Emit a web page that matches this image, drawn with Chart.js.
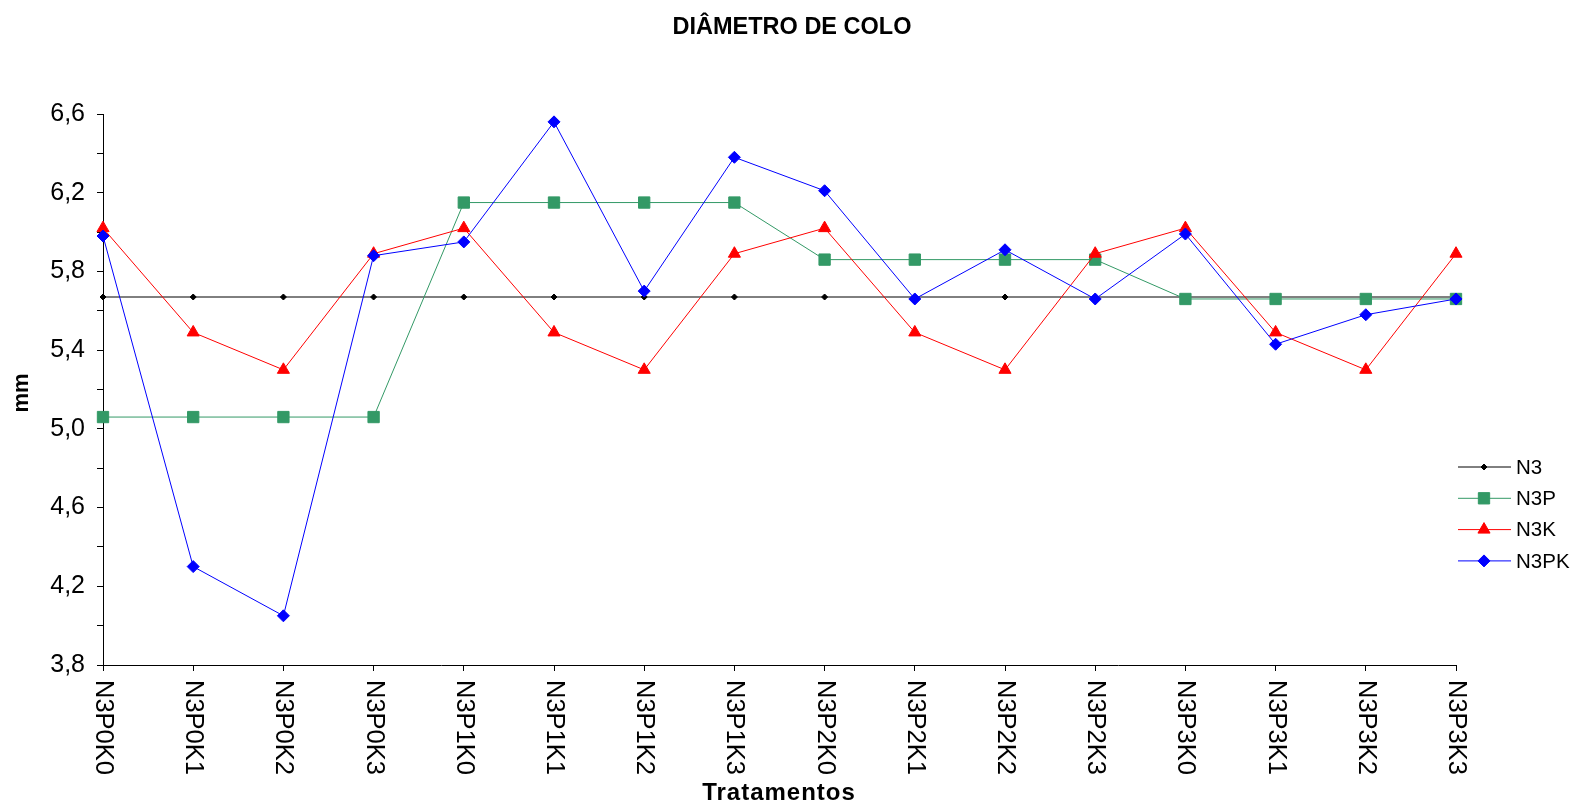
<!DOCTYPE html>
<html lang="pt">
<head>
  <meta charset="UTF-8" />
  <title>Diâmetro de colo</title>
  <script src="https://cdn.jsdelivr.net/npm/chart.js"></script>
  <style>
    body {
      margin: 0;
      background: #fff;
    }
    #grafico {
      display: block;
    }
  </style>
</head>
<body>
  <canvas id="grafico" width="1579" height="807"></canvas>

  <script>
    // dados
    const tratamentos = ['N3P0K0', 'N3P0K1', 'N3P0K2', 'N3P0K3', 'N3P1K0', 'N3P1K1', 'N3P1K2', 'N3P1K3',
      'N3P2K0', 'N3P2K1', 'N3P2K2', 'N3P2K3', 'N3P3K0', 'N3P3K1', 'N3P3K2', 'N3P3K3'];
    const n3 = [5.67, 5.67, 5.67, 5.67, 5.67, 5.67, 5.67, 5.67, 5.67, 5.67, 5.67, 5.67, 5.67, 5.67, 5.67, 5.67];
    const n3p = [5.06, 5.06, 5.06, 5.06, 6.15, 6.15, 6.15, 6.15, 5.86, 5.86, 5.86, 5.86, 5.66, 5.66, 5.66, 5.66];
    const n3k = [6.02, 5.49, 5.30, 5.89, 6.02, 5.49, 5.30, 5.89, 6.02, 5.49, 5.30, 5.89, 6.02, 5.49, 5.30, 5.89];
    const n3pk = [5.98, 4.30, 4.05, 5.88, 5.95, 6.56, 5.70, 6.38, 6.21, 5.66, 5.91, 5.66, 5.99, 5.43, 5.58, 5.66];
    const yMin = 3.8;
    const yMax = 6.6;

    const fonte = '"Liberation Sans", Arial, sans-serif';

    const series = [
      { label: 'N3', data: n3, cor: '#000000', ponto: 'rectRot', raio: 3, ordem: 3 },
      { label: 'N3P', data: n3p, cor: '#339966', ponto: 'rect', raio: 8, ordem: 2 },
      { label: 'N3K', data: n3k, cor: '#ff0000', ponto: 'triangle', raio: 7, ordem: 1 },
      { label: 'N3PK', data: n3pk, cor: '#0000ff', ponto: 'rectRot', raio: 6, ordem: 0 }
    ];

    function virgula(v) {
      return v.toFixed(1).replace('.', ',');
    }

    // textos, rótulos girados e legenda desenhados à mão
    const textosPlugin = {
      id: 'textos',
      afterDraw(chart) {
        const ctx = chart.ctx;
        const area = chart.chartArea;
        const x = chart.scales.x;
        const y = chart.scales.y;
        ctx.save();
        ctx.fillStyle = '#000';

        // título
        ctx.font = 'bold 23.5px ' + fonte;
        ctx.textAlign = 'center';
        ctx.textBaseline = 'middle';
        ctx.fillText('DIÂMETRO DE COLO', 792, 28);

        // rótulos do eixo y
        ctx.font = '25px ' + fonte;
        ctx.textAlign = 'right';
        y.ticks.forEach((t, i) => {
          if (i % 2 !== 0) return;
          ctx.fillText(virgula(t.value), 85, y.getPixelForValue(t.value));
        });

        // rótulos do eixo x (lendo de cima para baixo)
        ctx.font = '25.5px ' + fonte;
        ctx.textAlign = 'left';
        ctx.textBaseline = 'middle';
        tratamentos.forEach((nome, i) => {
          ctx.save();
          ctx.translate(x.getPixelForValue(i), area.bottom + 15);
          ctx.rotate(Math.PI / 2);
          ctx.fillText(nome, 0, 0);
          ctx.restore();
        });

        // títulos dos eixos
        ctx.font = 'bold 24px ' + fonte;
        ctx.textAlign = 'center';
        ctx.letterSpacing = '1px';
        ctx.fillText('Tratamentos', 779, 793);
        ctx.letterSpacing = '0px';
        ctx.font = 'bold 22px ' + fonte;
        ctx.save();
        ctx.translate(22, 393);
        ctx.rotate(-Math.PI / 2);
        ctx.fillText('mm', 0, 0);
        ctx.restore();

        // legenda
        ctx.font = '20.5px ' + fonte;
        ctx.textAlign = 'left';
        series.forEach((s, i) => {
          const ly = 467 + i * 31.3;
          ctx.strokeStyle = s.cor;
          ctx.lineWidth = 1;
          ctx.beginPath();
          ctx.moveTo(1458, ly);
          ctx.lineTo(1511, ly);
          ctx.stroke();
          ctx.fillStyle = s.cor;
          Chart.helpers.drawPoint(ctx, { pointStyle: s.ponto, radius: s.raio, borderWidth: 1, rotation: 0 }, 1484, ly);
          ctx.fillStyle = '#000';
          ctx.fillText(s.label, 1516, ly + 1);
        });
        ctx.restore();
      }
    };

    const config = {
      type: 'line',
      data: {
        labels: tratamentos,
        datasets: series.map(s => ({
          label: s.label,
          data: s.data,
          borderColor: s.cor,
          backgroundColor: s.cor,
          borderWidth: 1,
          pointStyle: s.ponto,
          pointRadius: s.raio,
          pointBorderWidth: 1,
          pointBorderColor: s.cor,
          pointBackgroundColor: s.cor,
          tension: 0,
          order: s.ordem
        }))
      },
      options: {
        responsive: false,
        animation: false,
        layout: {
          padding: { left: 97, right: 123, top: 114, bottom: 136 }
        },
        plugins: {
          legend: { display: false },
          title: { display: false },
          tooltip: { enabled: false }
        },
        scales: {
          x: {
            offset: false,
            ticks: { display: false },
            grid: {
              drawOnChartArea: false,
              drawTicks: true,
              tickLength: 6,
              color: '#000'
            },
            border: { color: '#000', width: 1 }
          },
          y: {
            min: yMin,
            max: yMax,
            ticks: { display: false, stepSize: 0.2 },
            grid: {
              drawOnChartArea: false,
              drawTicks: true,
              tickLength: 6,
              color: '#000'
            },
            border: { color: '#000', width: 1 }
          }
        }
      },
      plugins: [textosPlugin]
    };

    const grafico = new Chart(document.getElementById('grafico').getContext('2d'), config);
  </script>
</body>
</html>
